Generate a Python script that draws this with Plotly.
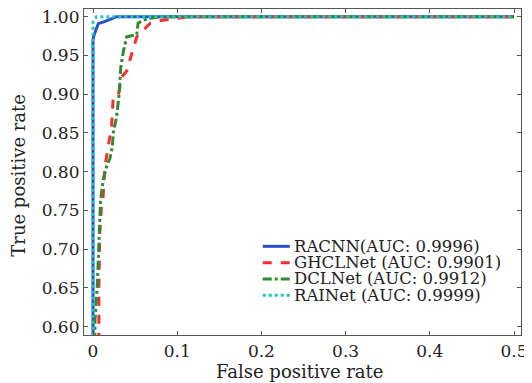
import plotly.graph_objects as go

# ROC curve data (false positive rate, true positive rate)
racnn_fpr = [0, 0.0, 0.0012, 0.0036, 0.0063, 0.012, 0.018, 0.024, 0.028, 0.5]
racnn_tpr = [0, 0.970, 0.976, 0.984, 0.991, 0.993, 0.995, 0.998, 1.0, 1.0]

ghcl_fpr = [0, 0.005, 0.007, 0.007, 0.008, 0.010, 0.012, 0.014, 0.018, 0.022, 0.024,
            0.030, 0.032, 0.034, 0.040, 0.044, 0.048, 0.052, 0.060, 0.068, 0.080,
            0.095, 0.115, 0.5]
ghcl_tpr = [0, 0.50, 0.59, 0.652, 0.720, 0.755, 0.768, 0.806, 0.832, 0.858, 0.896,
            0.898, 0.910, 0.922, 0.930, 0.944, 0.960, 0.974, 0.983, 0.9915, 0.995,
            0.997, 1.0, 1.0]

dcl_fpr = [0, 0.0015, 0.0024, 0.005, 0.0075, 0.009, 0.012, 0.016, 0.020, 0.023,
           0.024, 0.028, 0.030, 0.031, 0.033, 0.036, 0.040, 0.052, 0.0535, 0.058,
           0.068, 0.080, 0.5]
dcl_tpr = [0, 0.55, 0.609, 0.652, 0.720, 0.763, 0.789, 0.806, 0.817, 0.832,
           0.850, 0.871, 0.890, 0.900, 0.935, 0.955, 0.974, 0.977, 0.9915, 0.995,
           0.998, 1.0, 1.0]

rai_fpr = [0, 0.0, 0.004, 0.5]
rai_tpr = [0, 0.993, 1.0, 1.0]

labels = ["RACNN(AUC: 0.9996)", "GHCLNet (AUC: 0.9901)",
          "DCLNet (AUC: 0.9912)", "RAINet (AUC: 0.9999)"]

x_ticks = [0, 0.1, 0.2, 0.3, 0.4, 0.5]
x_tick_text = ["0", "0.1", "0.2", "0.3", "0.4", "0.5"]
y_ticks = [0.60, 0.65, 0.70, 0.75, 0.80, 0.85, 0.90, 0.95, 1.00]
y_tick_text = ["0.60", "0.65", "0.70", "0.75", "0.80", "0.85", "0.90", "0.95", "1.00"]

FONT = "DejaVu Serif"
colors = ["#2a4fc8", "#ff2a2a", "#2e8b2e", "#22c4c4"]
dashes = ["solid", "dash", "dashdot", "dot"]
series = [(racnn_fpr, racnn_tpr), (ghcl_fpr, ghcl_tpr),
          (dcl_fpr, dcl_tpr), (rai_fpr, rai_tpr)]

fig = go.Figure()
for (xs, ys), name, c, d in zip(series, labels, colors, dashes):
    fig.add_trace(go.Scatter(x=xs, y=ys, mode="lines", name=name, showlegend=False,
                             line=dict(color=c, width=3, dash=d)))

# manual legend (bottom right, no frame)
leg_y = [0.272, 0.222, 0.172, 0.122]
for name, c, d, yy in zip(labels, colors, dashes, leg_y):
    fig.add_shape(type="line", xref="paper", yref="paper",
                  x0=0.409, x1=0.471, y0=yy, y1=yy,
                  line=dict(color=c, width=3, dash=d))
    fig.add_annotation(xref="paper", yref="paper", x=0.476, y=yy,
                       xanchor="left", yanchor="middle", showarrow=False,
                       text=name, font=dict(family=FONT, size=16.5, color="#222"))

# axis titles
fig.add_annotation(xref="paper", yref="paper", x=0.493, y=-0.111,
                   xanchor="center", yanchor="middle", showarrow=False,
                   text="False positive rate", font=dict(family=FONT, size=18, color="#222"))
fig.add_annotation(xref="paper", yref="paper", x=-0.15, y=0.49,
                   xanchor="center", yanchor="middle", showarrow=False, textangle=-90,
                   text="True positive rate", font=dict(family=FONT, size=18, color="#222"))

# page body has an 8px margin: figure is 524x375, plot area at screen (84..521, 9..335)
fig.update_layout(
    width=524, height=375,
    margin=dict(l=76, r=11, t=1, b=48),
    paper_bgcolor="white", plot_bgcolor="white",
    font=dict(family=FONT, size=17, color="#222"),
    showlegend=False,
)
fig.update_xaxes(range=[-0.0107, 0.5083], tickvals=x_ticks, ticktext=x_tick_text,
                 automargin=False, ticklabeloverflow="allow",
                 showgrid=False, zeroline=False, showline=True, linecolor="#555",
                 linewidth=1.2, mirror="ticks", ticks="inside", ticklen=4,
                 tickcolor="#555", tickfont=dict(family=FONT, size=17, color="#222"))
fig.update_yaxes(range=[0.5893, 1.0099], tickvals=y_ticks, ticktext=y_tick_text,
                 automargin=False, ticklabeloverflow="allow",
                 showgrid=False, zeroline=False, showline=True, linecolor="#555",
                 linewidth=1.2, mirror="ticks", ticks="inside", ticklen=4,
                 tickcolor="#555", tickfont=dict(family=FONT, size=17, color="#222"))

fig.write_html("out.html")
